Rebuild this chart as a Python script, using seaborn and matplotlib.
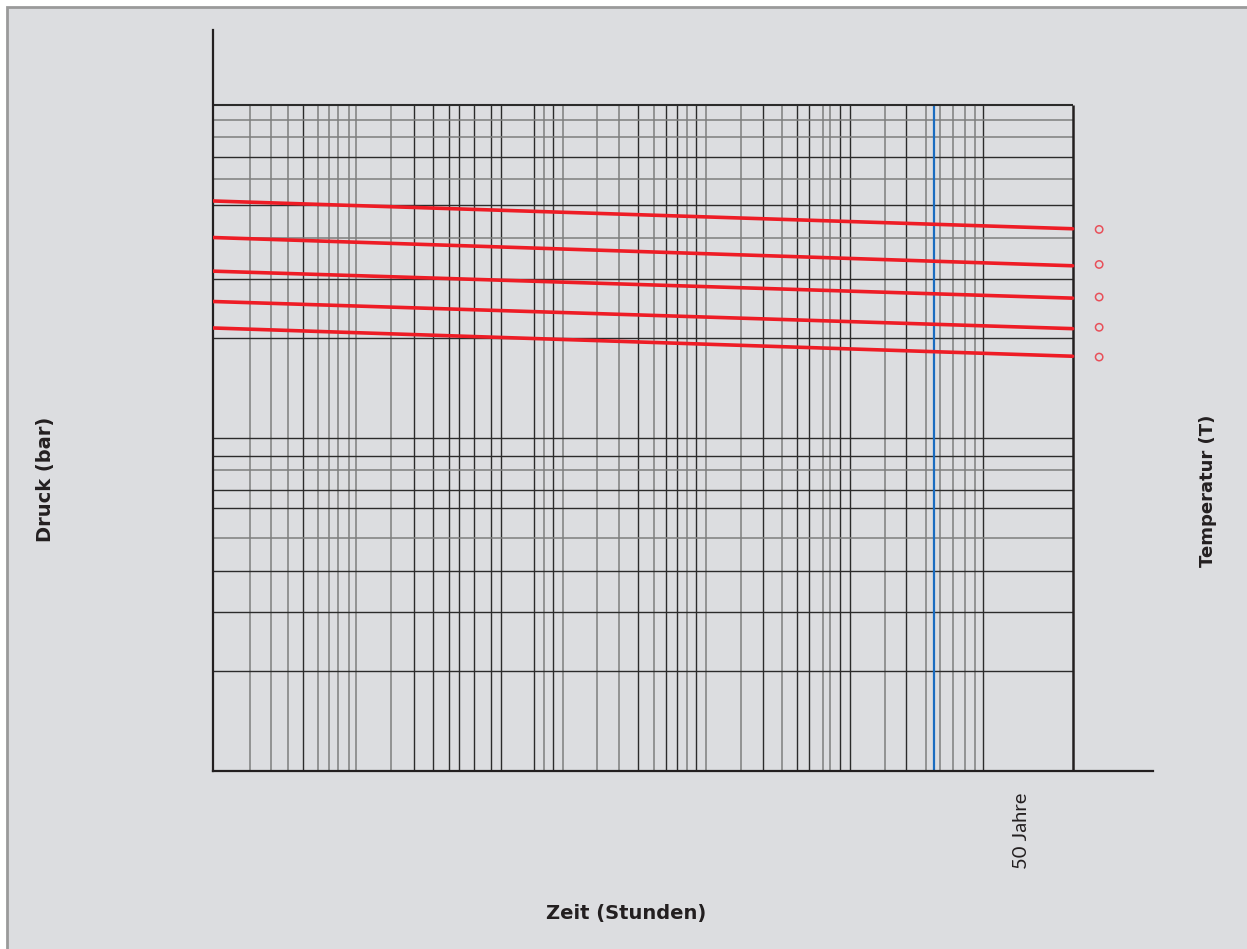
import numpy as np
import pandas as pd
import matplotlib
matplotlib.use("Agg")
import matplotlib.pyplot as plt
from matplotlib.patches import Rectangle
import matplotlib.transforms as mtransforms
import seaborn as sns

# ---------------- data ----------------
# time axis: hours, log scale 1 h ... 1e6 h
x_min, x_max = 1.0, 1.0e6
# vertical grid lines (hours)
x_grid_dark = [4.29, 25.5, 34.7, 44.2, 52.5, 66.9, 88.1, 102, 175, 238,
               932, 1447, 1735, 2366, 6855, 11985, 14510, 23910, 28085,
               69060, 237900]
x_grid_grey = [1.82, 2.55, 3.35, 5.45, 6.45, 7.48, 8.89, 9.95, 17.6, 204,
               278, 480, 680, 1200, 2028, 2752, 4830, 9330, 18115, 20275,
               49050, 94450, 117750, 146200, 176800, 207600]
x_blue = [107250]
x_50_jahre = 438000  # 50 years in hours

# pressure axis: bar, log scale 1 ... 100
y_min, y_max = 1.0, 100.0
y_grid_dark = [2, 3, 4, 6.15, 7, 8.85, 10, 20, 30, 50, 70]
y_grid_grey = [5, 8, 40, 60, 80, 90]

# regression lines (five temperatures): pressure at 1 h and at 1e6 h
curve_ids = ["T1", "T2", "T3", "T4", "T5"]
p_start = [51.5, 40.0, 31.7, 25.7, 21.4]
p_end = [42.5, 32.9, 26.3, 21.3, 17.6]
# temperature markers right of the grid
marker_x = 1.53e6
marker_y = [42.3, 33.2, 26.5, 21.5, 17.5]

labels = {"y": "Druck (bar)", "y2": "Temperatur (T)", "x": "Zeit (Stunden)",
          "mark": "50 Jahre"}

# ---------------- figure ----------------
sns.set_theme(style="white")
plt.rcParams["font.family"] = ["DejaVu Sans"]

W, H = 1247, 949
fig = plt.figure(figsize=(W / 100, H / 100), dpi=100, facecolor="white")
bg = "#dcdde0"
fig.patches.append(Rectangle((7 / W, -0.05), 1.2, 1 - 6.5 / H + 0.05,
                             transform=fig.transFigure, facecolor=bg,
                             edgecolor="#9a9a9a", linewidth=2.0, zorder=-10))

ax = fig.add_axes([212.7 / W, 1 - 771 / H, (1153 - 212.7) / W, (771 - 30) / H])
ax.set_facecolor("none")
ax.set_xscale("log")
ax.set_yscale("log")
ax.set_xlim(x_min, 10 ** 6.5604)
ax.set_ylim(y_min, 10 ** 2.2252)

dark = "#2b2b2b"
grey = "#7e7e7e"
ax.vlines(x_grid_grey, y_min, y_max, color=grey, lw=1.1, zorder=1)
ax.vlines(x_grid_dark, y_min, y_max, color=dark, lw=1.0, zorder=1)
ax.hlines(y_grid_grey, x_min, x_max, color=grey, lw=1.1, zorder=1)
ax.hlines(y_grid_dark, x_min, x_max, color=dark, lw=1.0, zorder=1)
ax.vlines(x_blue, y_min, y_max, color="#1a6cc0", lw=1.6, zorder=2)
# frame of the grid (top and right)
ax.hlines([y_max], x_min, x_max, color=dark, lw=1.5, zorder=2)
ax.vlines([x_max], y_min, y_max, color="#231f20", lw=1.8, zorder=2)

df = pd.DataFrame({
    "Kurve": curve_ids * 2,
    "Zeit": [x_min] * 5 + [x_max] * 5,
    "Druck": p_start + p_end,
})
red = "#ee1c25"
sns.lineplot(data=df, x="Zeit", y="Druck", hue="Kurve", palette=[red] * 5,
             legend=False, lw=2.6, ax=ax, zorder=3)
dm = pd.DataFrame({"x": [marker_x] * 5, "y": marker_y})
sns.scatterplot(data=dm, x="x", y="y", ax=ax, s=28, marker="o",
                facecolor="none", edgecolor="#e8505a", linewidth=1.1,
                zorder=4, clip_on=False)

for s in ["top", "right"]:
    ax.spines[s].set_visible(False)
for s in ["left", "bottom"]:
    ax.spines[s].set_color("#231f20")
    ax.spines[s].set_linewidth(1.6)
ax.xaxis.set_major_locator(matplotlib.ticker.NullLocator())
ax.xaxis.set_minor_locator(matplotlib.ticker.NullLocator())
ax.yaxis.set_major_locator(matplotlib.ticker.NullLocator())
ax.yaxis.set_minor_locator(matplotlib.ticker.NullLocator())
ax.set_xlabel("")
ax.set_ylabel("")

txt = dict(fontweight="bold", color="#231f20", family="DejaVu Sans")
fig.text(45 / W, 1 - 479 / H, labels["y"], rotation=90, ha="center",
         va="center", fontsize=14, **txt)
fig.text(1208 / W, 1 - 491 / H, labels["y2"], rotation=90, ha="center",
         va="center", fontsize=13, **txt)
fig.text(626.5 / W, 1 - 913 / H, labels["x"], ha="center", va="center",
         fontsize=14, **txt)

trans = mtransforms.blended_transform_factory(ax.transData, fig.transFigure)
ax.text(x_50_jahre, 1 - 793 / H, labels["mark"], transform=trans,
        rotation=90, ha="center", va="top", fontsize=14.5, color="#231f20",
        family="Lato", clip_on=False)

fig.savefig("out.png", dpi=100, facecolor="white")
